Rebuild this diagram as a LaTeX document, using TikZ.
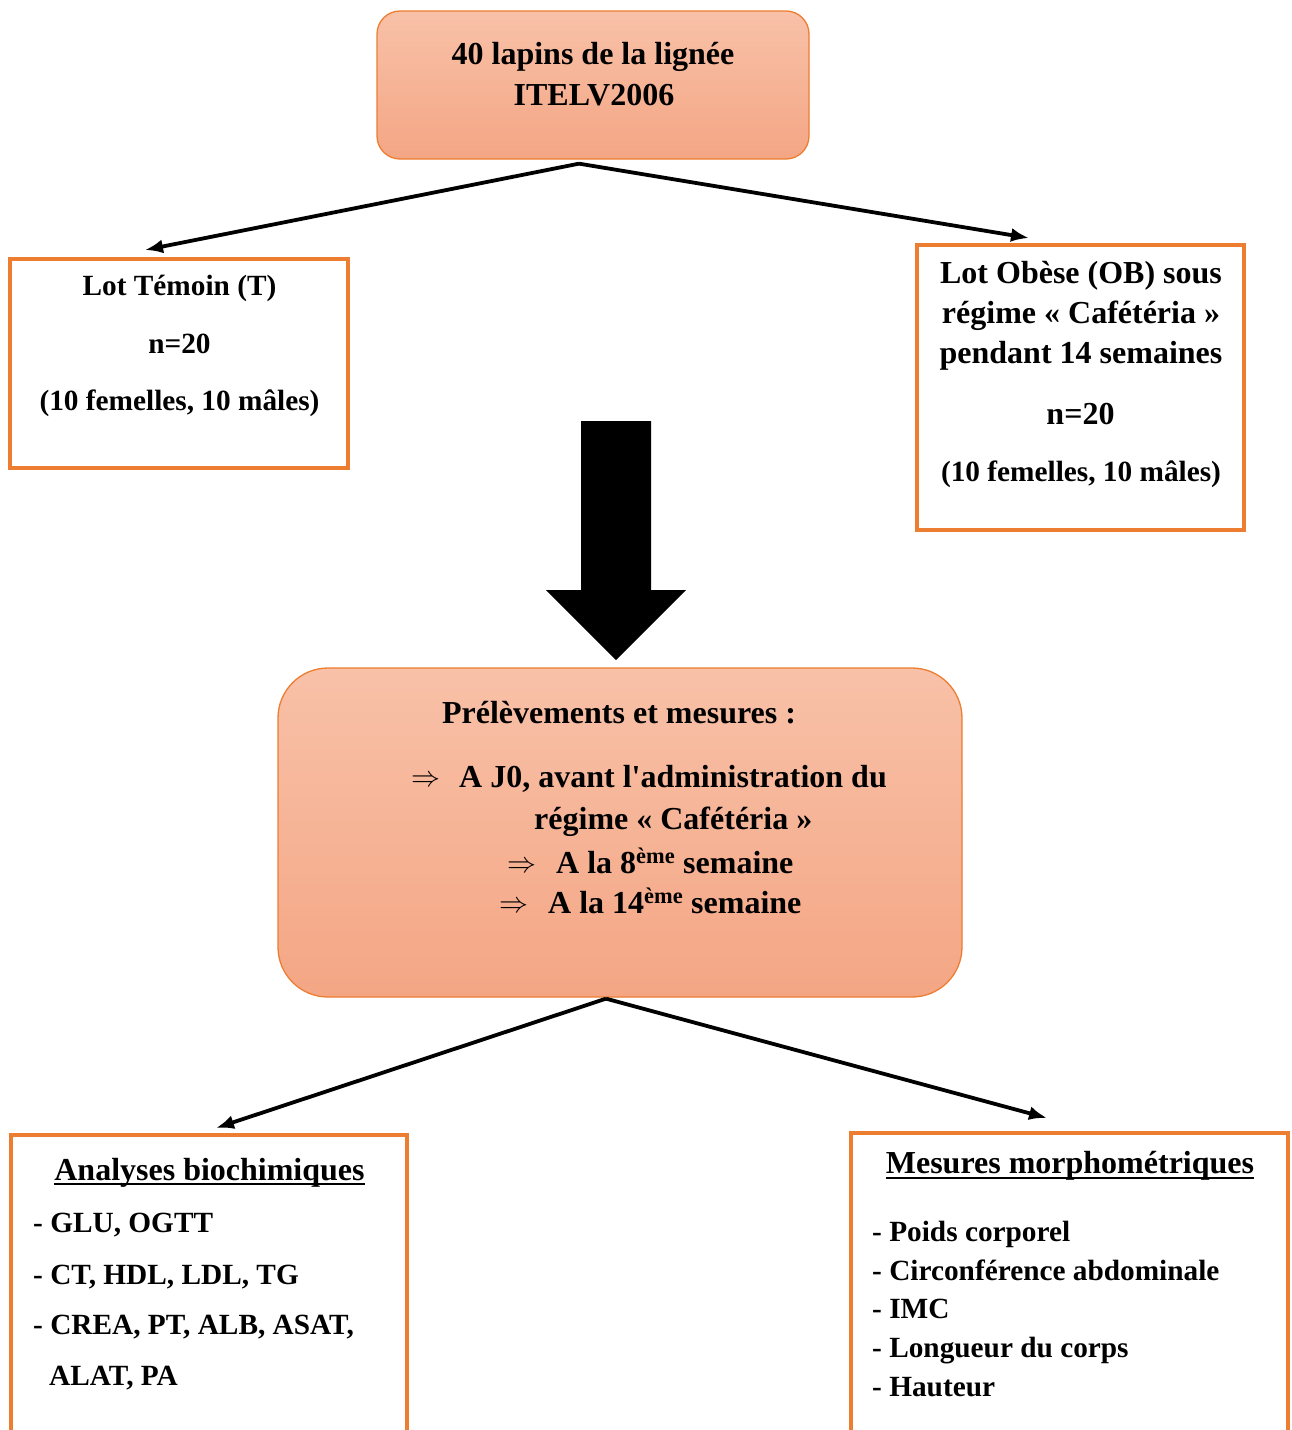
\documentclass[tikz,border=0pt]{standalone}
\usepackage{fontspec}
\setmainfont{Liberation Serif}[Ligatures=TeXOff]
\usetikzlibrary{arrows.meta}
\definecolor{boxorange}{HTML}{ED7D31}
\definecolor{shadetop}{HTML}{F8C1A8}
\definecolor{shadebot}{HTML}{F4A684}
\newcommand{\bigimp}{\resizebox{29pt}{!}{$\Rightarrow$}}
\tikzset{
  roundbox/.style={draw=boxorange, line width=1.3pt, top color=shadetop, bottom color=shadebot, inner sep=0pt},
  framebox/.style={draw=boxorange, line width=4pt, inner sep=0pt},
  bigtxt/.style={font=\fontsize{32}{40}\selectfont\bfseries, inner sep=0pt, anchor=base},
  smalltxt/.style={font=\fontsize{29.3}{36}\selectfont\bfseries, inner sep=0pt, anchor=base},
  conn/.style={line width=3.8pt, -{Latex[length=18pt,width=14pt]}},
  uline/.style={line width=1.8pt},
}
\begin{document}
\begin{tikzpicture}[x=1pt,y=-1pt]
\clip (0,0) rectangle (1291,1430);
\fill[white] (0,0) rectangle (1291,1430);

% boxes
\node[roundbox, rounded corners=23pt, minimum width=432pt, minimum height=148pt] (top) at (593,85) {};
\node[framebox, minimum width=338pt, minimum height=209pt] (lotT) at (179,363.5) {};
\node[framebox, minimum width=327pt, minimum height=285pt] (lotOB) at (1080.5,387.5) {};
\node[roundbox, rounded corners=50pt, minimum width=684pt, minimum height=329pt] (mid) at (620,832.5) {};
\node[framebox, minimum width=396pt, minimum height=320pt] (bio) at (209,1295) {};
\node[framebox, minimum width=437pt, minimum height=322pt] (morpho) at (1069.5,1294) {};

% connector end points
\coordinate (tipT) at (145,250);
\coordinate (tipOB) at (1029,238);
\coordinate (tipBio) at (216,1128);
\coordinate (tipMorpho) at (1047,1118);

\draw[conn] ([xshift=-14pt,yshift=-4pt]top.south) -- (tipT);
\draw[conn] ([xshift=-14pt,yshift=-4pt]top.south) -- (tipOB);
\draw[conn] ([xshift=-14pt,yshift=-1pt]mid.south) -- (tipBio);
\draw[conn] ([xshift=-14pt,yshift=-1pt]mid.south) -- (tipMorpho);

% big block arrow
\fill[black] (581,421) -- (651,421) -- (651,590) -- (686,590) -- (616,660) -- (546,590) -- (581,590) -- cycle;

% top box text
\node[bigtxt] (t1) at (593,64) {40 lapins de la lignée};
\node[bigtxt] (t2) at (594,105) {ITELV2006};

% left box text
\node[smalltxt] (l1) at (179.5,295) {Lot Témoin (T)};
\node[smalltxt] (l2) at (179.5,353) {n=20};
\node[smalltxt] (l3) at (179.5,410) {(10 femelles, 10 mâles)};

% right box text
\node[bigtxt] (r1) at (1081,283) {Lot Obèse (OB) sous};
\node[bigtxt] (r2) at (1081,323) {régime « Cafétéria »};
\node[bigtxt] (r3) at (1081,363) {pendant 14 semaines};
\node[bigtxt] (r4) at (1080.5,424) {n=20};
\node[smalltxt] (r5) at (1081,481) {(10 femelles, 10 mâles)};

% middle box text
\node[bigtxt] (m1) at (619,723) {Prélèvements et mesures :};
\node[bigtxt, anchor=base west] (m2a) at (411,786) {\bigimp};
\node[bigtxt, anchor=base west] (m2) at (459,787) {A J0, avant l'administration du};
\node[bigtxt, anchor=base west] (m3) at (534,829) {régime « Cafétéria »};
\node[bigtxt, anchor=base west] (m4a) at (507,872) {\bigimp};
\node[bigtxt, anchor=base west] (m4) at (556,873) {A la 8\textsuperscript{ème} semaine};
\node[bigtxt, anchor=base west] (m5a) at (499,912) {\bigimp};
\node[bigtxt, anchor=base west] (m5) at (548,913) {A la 14\textsuperscript{ème} semaine};

% bottom left text
\node[bigtxt] (bh) at (209.5,1180) {Analyses biochimiques};
\draw[uline] ([yshift=-4pt]bh.base west) -- ([yshift=-4pt]bh.base east);
\node[smalltxt, anchor=base west] (b1) at (33,1232) {- GLU, OGTT};
\node[smalltxt, anchor=base west] (b2) at (33,1284) {- CT, HDL, LDL, TG};
\node[smalltxt, anchor=base west] (b3) at (33,1334) {- CREA, PT, ALB, ASAT,};
\node[smalltxt, anchor=base west] (b4) at (49,1385) {ALAT, PA};

% bottom right text
\node[bigtxt] (mh) at (1070,1173) {Mesures morphométriques};
\draw[uline] ([yshift=-5pt]mh.base west) -- ([yshift=-5pt]mh.base east);
\node[smalltxt, anchor=base west] (p1) at (872,1241) {- Poids corporel};
\node[smalltxt, anchor=base west] (p2) at (872,1280) {- Circonférence abdominale};
\node[smalltxt, anchor=base west] (p3) at (872,1318) {- IMC};
\node[smalltxt, anchor=base west] (p4) at (872,1357) {- Longueur du corps};
\node[smalltxt, anchor=base west] (p5) at (872,1396) {- Hauteur};
\end{tikzpicture}
\end{document}
